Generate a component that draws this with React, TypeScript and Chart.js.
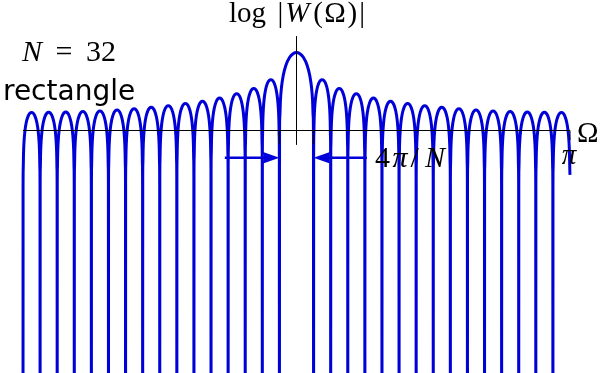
import React, { useEffect, useRef } from 'react';
import { Chart, registerables } from 'chart.js';

Chart.register(...registerables);

// Zeros of the rectangular-window spectrum, Ω in units of π (N = 32)
const zerosOverPi = [
  -1, -0.9375, -0.875, -0.8125, -0.75, -0.6875, -0.625, -0.5625, -0.5, -0.4375, -0.375, -0.3125,
  -0.25, -0.1875, -0.125, -0.0625, 0.0625, 0.125, 0.1875, 0.25, 0.3125, 0.375, 0.4375, 0.5,
  0.5625, 0.625, 0.6875, 0.75, 0.8125, 0.875, 0.9375, 1,
];

// Lobe peak levels (log scale, axis at 0)
const leftSidelobePeaks = [0.45, 0.455, 0.46, 0.475, 0.49, 0.515, 0.545, 0.58, 0.62, 0.675, 0.73, 0.81, 0.92, 1.05, 1.27];
const mainLobePeak = 1.95;
const rightSidelobePeaks = [1.27, 1.05, 0.92, 0.81, 0.73, 0.675, 0.62, 0.58, 0.545, 0.515, 0.49, 0.475, 0.46, 0.455, 0.45];

// Shape of one lobe: fraction across the lobe and drop below its peak
const sideProfileT = [0, 0.004, 0.012, 0.03, 0.06, 0.11, 0.19, 0.3, 0.4, 0.5, 0.6, 0.7, 0.81, 0.89, 0.94, 0.97, 0.988, 0.996, 1];
const sideProfileDrop = [-11, -1.9, -1.42, -1.03, -0.73, -0.47, -0.25, -0.09, -0.02, 0, -0.02, -0.09, -0.25, -0.47, -0.73, -1.03, -1.42, -1.9, -11];
const mainProfileT = [0, 0.004, 0.012, 0.03, 0.06, 0.11, 0.19, 0.3, 0.4, 0.5, 0.6, 0.7, 0.81, 0.89, 0.94, 0.97, 0.988, 0.996, 1];
const mainProfileDrop = [-11, -2.09, -1.61, -1.2, -0.875, -0.585, -0.32, -0.12, -0.03, 0, -0.03, -0.12, -0.32, -0.585, -0.875, -1.2, -1.61, -2.09, -11];

// Value of the curve where the sampling stops at Ω = π
const rightEndValue = -1.11;

// Annotation values (data units)
const mainLobeHalfWidth = 0.0625;
const arrowLevel = -0.68;
const leftArrowTail = -0.262;
const rightArrowTail = 0.257;

const CURVE = '#0000d8';
const X_MIN = -296.5 / 273.5;
const X_MAX = (600 - 296.5) / 273.5;
const Y_MAX = 130.5 / 40;
const Y_MIN = (130.5 - 373) / 40;

function buildPoints() {
  const peaks = [...leftSidelobePeaks, mainLobePeak, ...rightSidelobePeaks];
  const pts: { x: number; y: number }[] = [];
  for (let i = 0; i < zerosOverPi.length - 1; i++) {
    const z0 = zerosOverPi[i];
    const z1 = zerosOverPi[i + 1];
    const isMain = z0 < 0 && z1 > 0;
    const T = isMain ? mainProfileT : sideProfileT;
    const D = isMain ? mainProfileDrop : sideProfileDrop;
    for (let j = 0; j < T.length - 1; j++) {
      pts.push({ x: z0 + T[j] * (z1 - z0), y: peaks[i] + D[j] });
    }
  }
  while (pts.length && pts[pts.length - 1].y < rightEndValue) pts.pop();
  pts.push({ x: zerosOverPi[zerosOverPi.length - 1], y: rightEndValue });
  return pts;
}

type Run = { t: string; it?: boolean; gap?: number };
const SERIF = '"Liberation Serif", "Times New Roman", serif';

function drawRuns(ctx: CanvasRenderingContext2D, runs: Run[], x0: number, x1: number, baseline: number, size: number) {
  const fonts = runs.map((r) => `${r.it ? 'italic ' : ''}${size}px ${SERIF}`);
  const widths = runs.map((r, i) => {
    ctx.font = fonts[i];
    return ctx.measureText(r.t).width;
  });
  const total = widths.reduce((a, b) => a + b, 0);
  const weights = runs.slice(0, -1).map((r) => (r.gap === undefined ? 1 : r.gap));
  const wsum = weights.reduce((a, b) => a + b, 0) || 1;
  const extra = x1 - x0 - total;
  let x = x0;
  runs.forEach((r, i) => {
    ctx.font = fonts[i];
    ctx.fillText(r.t, x, baseline);
    x += widths[i] + (i < runs.length - 1 ? (extra * weights[i]) / wsum : 0);
  });
}

function arrow(ctx: CanvasRenderingContext2D, xTail: number, xTip: number, y: number) {
  const dir = Math.sign(xTip - xTail);
  const headLen = 17;
  const half = 6;
  ctx.beginPath();
  ctx.moveTo(xTail, y);
  ctx.lineTo(xTip - dir * headLen * 0.6, y);
  ctx.stroke();
  ctx.beginPath();
  ctx.moveTo(xTip, y);
  ctx.lineTo(xTip - dir * headLen, y - half);
  ctx.quadraticCurveTo(xTip - dir * headLen * 0.8, y, xTip - dir * headLen, y + half);
  ctx.closePath();
  ctx.fill();
}

const decorPlugin = {
  id: 'decor',
  afterDatasetsDraw(chart: any) {
    const { ctx, scales } = chart;
    const px = (v: number) => scales.x.getPixelForValue(v);
    const py = (v: number) => scales.y.getPixelForValue(v);
    ctx.save();
    ctx.strokeStyle = '#000';
    ctx.lineWidth = 1;
    const seg = (x1: number, y1: number, x2: number, y2: number) => {
      ctx.beginPath();
      ctx.moveTo(x1, y1);
      ctx.lineTo(x2, y2);
      ctx.stroke();
    };
    // horizontal axis from -π to π
    seg(px(-1), py(0), px(1), py(0));
    // vertical axis
    seg(px(0), py(2.36), px(0), py(-0.36));
    // ticks at the first zeros and at π
    seg(px(-mainLobeHalfWidth), py(0), px(-mainLobeHalfWidth), py(-0.34));
    seg(px(mainLobeHalfWidth), py(0), px(mainLobeHalfWidth), py(-0.34));
    seg(px(1), py(0), px(1), py(-0.24));
    // arrows marking the main lobe width
    ctx.strokeStyle = CURVE;
    ctx.fillStyle = CURVE;
    ctx.lineWidth = 2.6;
    arrow(ctx, px(leftArrowTail), px(-mainLobeHalfWidth), py(arrowLevel));
    arrow(ctx, px(rightArrowTail), px(mainLobeHalfWidth), py(arrowLevel));
    ctx.restore();
  },
  afterDraw(chart: any) {
    const { ctx } = chart;
    ctx.save();
    ctx.fillStyle = '#000';
    ctx.textBaseline = 'alphabetic';
    ctx.textAlign = 'left';
    drawRuns(
      ctx,
      [
        { t: 'log', gap: 2.2 },
        { t: '|', gap: 0.4 },
        { t: 'W', it: true, gap: 0.7 },
        { t: '(', gap: 0.3 },
        { t: 'Ω', gap: 0.3 },
        { t: ')', gap: 0.4 },
        { t: '|' },
      ],
      229,
      365,
      21.5,
      29
    );
    drawRuns(
      ctx,
      [
        { t: 'N', it: true, gap: 1 },
        { t: '=', gap: 1 },
        { t: '32' },
      ],
      22,
      116,
      61,
      30
    );
    ctx.font = '28px "DejaVu Sans", sans-serif';
    ctx.fillText('rectangle', 3, 99.5);
    drawRuns(
      ctx,
      [
        { t: '4', gap: 0.2 },
        { t: 'π', it: true, gap: 0.25 },
        { t: '/', gap: 0.5 },
        { t: 'N', it: true },
      ],
      375,
      445,
      167,
      30
    );
    ctx.font = `29px ${SERIF}`;
    ctx.fillText('Ω', 577, 141.5);
    ctx.font = `italic 29px ${SERIF}`;
    ctx.textAlign = 'center';
    ctx.fillText('π', 569, 164);
    ctx.restore();
  },
};

export default function App() {
  const ref = useRef<HTMLCanvasElement>(null);
  useEffect(() => {
    if (!ref.current) return;
    const chart = new Chart(ref.current, {
      type: 'line',
      data: {
        datasets: [
          {
            data: buildPoints(),
            borderColor: CURVE,
            borderWidth: 3,
            pointRadius: 0,
            cubicInterpolationMode: 'monotone',
            fill: false,
          },
        ],
      },
      options: {
        animation: false,
        responsive: false,
        events: [],
        layout: { padding: 0 },
        plugins: { legend: { display: false }, tooltip: { enabled: false } },
        scales: {
          x: { type: 'linear', min: X_MIN, max: X_MAX, display: false },
          y: { type: 'linear', min: Y_MIN, max: Y_MAX, display: false },
        },
      },
      plugins: [decorPlugin],
    } as any);
    return () => chart.destroy();
  }, []);
  return (
    <div style={{ position: 'fixed', left: 0, top: 0, width: 600, height: 373, background: '#fff' }}>
      <canvas ref={ref} width={600} height={373} style={{ width: 600, height: 373, display: 'block' }} />
    </div>
  );
}
